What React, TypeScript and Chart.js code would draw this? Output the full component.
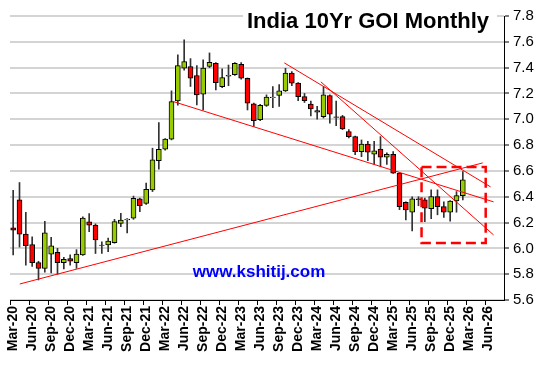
import React, { useEffect, useRef } from 'react';
import { Chart, registerables } from 'chart.js';

Chart.register(...registerables);

const months = [
  'Mar-20','Apr-20','May-20','Jun-20','Jul-20','Aug-20','Sep-20','Oct-20','Nov-20','Dec-20',
  'Jan-21','Feb-21','Mar-21','Apr-21','May-21','Jun-21','Jul-21','Aug-21','Sep-21','Oct-21','Nov-21','Dec-21',
  'Jan-22','Feb-22','Mar-22','Apr-22','May-22','Jun-22','Jul-22','Aug-22','Sep-22','Oct-22','Nov-22','Dec-22',
  'Jan-23','Feb-23','Mar-23','Apr-23','May-23','Jun-23','Jul-23','Aug-23','Sep-23','Oct-23','Nov-23','Dec-23',
  'Jan-24','Feb-24','Mar-24','Apr-24','May-24','Jun-24','Jul-24','Aug-24','Sep-24','Oct-24','Nov-24','Dec-24',
  'Jan-25','Feb-25','Mar-25','Apr-25','May-25','Jun-25','Jul-25','Aug-25','Sep-25','Oct-25','Nov-25','Dec-25',
  'Jan-26','Feb-26'
];

const opens = [
  6.16, 6.375, 6.11, 6.03, 5.89, 5.845, 5.955, 5.97, 5.89, 5.92,
  5.89, 5.95, 6.205, 6.18, 6.026, 6.026, 6.044, 6.194, 6.22, 6.233, 6.383, 6.349,
  6.453, 6.68, 6.768, 6.846, 7.143, 7.396, 7.409, 7.339, 7.194, 7.409, 7.434, 7.253,
  7.333, 7.346, 7.426, 7.318, 7.12, 6.997, 7.108, 7.168, 7.184, 7.22, 7.357, 7.28,
  7.176, 7.117, 7.068, 7.021, 7.184, 7.018, 7.021, 6.905, 6.866, 6.75, 6.807, 6.729,
  6.77, 6.706, 6.729, 6.582, 6.357, 6.28, 6.383, 6.375, 6.307, 6.401, 6.323, 6.28,
  6.367, 6.409
];
const highs = [
  6.45, 6.51, 6.28, 6.09, 5.9, 6.21, 6.085, 6.0, 5.93, 5.95,
  5.99, 6.245, 6.27, 6.19, 6.05, 6.08, 6.225, 6.272, 6.23, 6.405, 6.39, 6.505,
  6.776, 6.974, 6.85, 7.22, 7.499, 7.615, 7.47, 7.416, 7.46, 7.514, 7.44, 7.39,
  7.42, 7.44, 7.44, 7.32, 7.125, 7.115, 7.189, 7.253, 7.268, 7.395, 7.37, 7.285,
  7.2, 7.14, 7.1, 7.253, 7.19, 7.14, 7.03, 6.92, 6.87, 6.84, 6.83, 6.83,
  6.866, 6.74, 6.75, 6.585, 6.36, 6.4, 6.4, 6.39, 6.453, 6.453, 6.36, 6.37,
  6.44, 6.595
];
const lows = [
  5.95, 6.01, 5.87, 5.86, 5.755, 5.815, 5.81, 5.8, 5.84, 5.87,
  5.845, 5.945, 6.13, 5.96, 5.96, 5.975, 6.04, 6.168, 6.12, 6.225, 6.285, 6.34,
  6.44, 6.613, 6.76, 6.84, 7.11, 7.38, 7.254, 7.111, 7.072, 7.4, 7.227, 7.245,
  7.26, 7.34, 7.31, 7.072, 6.944, 6.99, 7.1, 7.09, 7.1, 7.215, 7.26, 7.145,
  7.13, 7.026, 7.0, 7.01, 6.97, 6.95, 6.92, 6.855, 6.725, 6.71, 6.68, 6.65,
  6.632, 6.65, 6.58, 6.3, 6.22, 6.135, 6.33, 6.207, 6.23, 6.26, 6.24, 6.21,
  6.28, 6.375
];
const closes = [
  6.14, 6.11, 6.02, 5.89, 5.845, 6.12, 6.02, 5.89, 5.915, 5.9,
  5.955, 6.235, 6.18, 6.065, 6.022, 6.057, 6.207, 6.22, 6.226, 6.388, 6.331, 6.458,
  6.685, 6.768, 6.846, 7.137, 7.416, 7.447, 7.318, 7.189, 7.396, 7.442, 7.284, 7.323,
  7.341, 7.434, 7.318, 7.125, 6.99, 7.108, 7.171, 7.172, 7.22, 7.357, 7.28, 7.176,
  7.145, 7.081, 7.055, 7.189, 7.04, 7.014, 6.926, 6.866, 6.75, 6.807, 6.745, 6.755,
  6.706, 6.729, 6.582, 6.323, 6.297, 6.383, 6.378, 6.311, 6.401, 6.323, 6.28, 6.367,
  6.409, 6.53
];

const axisLabels = [
  'Mar-20','Jun-20','Sep-20','Dec-20','Mar-21','Jun-21','Sep-21','Dec-21',
  'Mar-22','Jun-22','Sep-22','Dec-22','Mar-23','Jun-23','Sep-23','Dec-23',
  'Mar-24','Jun-24','Sep-24','Dec-24','Mar-25','Jun-25','Sep-25','Dec-25',
  'Mar-26','Jun-26'
];

const yMin = 5.6;
const yMax = 7.8;
const yStep = 0.2;

// trendlines in (month index, yield)
const supportLine = [{ x: 1.04, y: 5.724 }, { x: 74.14, y: 6.662 }];
const resistLineA = [{ x: 25.3, y: 7.137 }, { x: 75.86, y: 6.36 }];
const resistLineB = [{ x: 42.81, y: 7.437 }, { x: 75.39, y: 6.476 }];
const resistLineC = [{ x: 48.58, y: 7.29 }, { x: 75.86, y: 6.104 }];
const boxXs = [64.48, 74.61];
const boxYs = [6.042, 6.631];

const titleText = 'India 10Yr GOI Monthly';
const watermarkText = 'www.kshitij.com';

export default function App() {
  const ref = useRef<HTMLCanvasElement>(null);

  useEffect(() => {
    const canvas = ref.current;
    if (!canvas) return;
    const font = '"Liberation Sans", Arial, Helvetica, sans-serif';
    const axisMax = axisLabels.length * 3 - 0.5;

    const overlay = {
      id: 'overlay',
      beforeDatasetsDraw(chart: any) {
        const c = chart.ctx;
        c.save();
        c.fillStyle = '#ffffff';
        c.fillRect(243, 2, 254, 30);
        c.fillStyle = '#000000';
        c.font = `bold 22px ${font}`;
        c.textAlign = 'right';
        c.textBaseline = 'alphabetic';
        c.fillText(titleText, 489, 28);
        c.fillStyle = '#0000ff';
        c.font = `bold 17px ${font}`;
        c.textAlign = 'center';
        c.fillText(watermarkText, 259, 277);
        c.restore();
      },
    };

    const lineDs = (pts: any[], dash: number[] = [], width = 1) => ({
      type: 'line' as const,
      data: pts,
      borderColor: '#ff0000',
      borderWidth: width,
      borderDash: dash,
      pointRadius: 0,
      fill: false,
      tension: 0,
      order: -1,
    });

    const box = [
      { x: boxXs[0], y: boxYs[1] },
      { x: boxXs[1], y: boxYs[1] },
      { x: boxXs[1], y: boxYs[0] },
      { x: boxXs[0], y: boxYs[0] },
      { x: boxXs[0], y: boxYs[1] },
    ];

    const chart = new Chart(canvas, {
      type: 'bar',
      data: {
        datasets: [
          {
            type: 'bar',
            data: months.map((_, i) => ({ x: i, y: [lows[i], highs[i]] })) as any,
            backgroundColor: '#333333',
            borderWidth: 0,
            barThickness: 1,
            grouped: false,
            order: 2,
          } as any,
          {
            type: 'bar',
            data: months.map((_, i) => ({ x: i, y: [opens[i], closes[i]] })) as any,
            backgroundColor: months.map((_, i) => (closes[i] >= opens[i] ? '#99cc00' : '#ff0000')),
            borderColor: '#000000',
            borderWidth: 1,
            borderSkipped: false,
            barThickness: 5,
            grouped: false,
            order: 1,
          } as any,
          lineDs(supportLine) as any,
          lineDs(resistLineA) as any,
          lineDs(resistLineB) as any,
          lineDs(resistLineC) as any,
          lineDs(box, [10, 5], 2.5) as any,
        ],
      },
      options: {
        responsive: false,
        animation: false,
        events: [],
        layout: { padding: { left: 10, top: 16, right: 0, bottom: 0 } },
        plugins: { legend: { display: false }, tooltip: { enabled: false }, title: { display: false } },
        scales: {
          x: {
            type: 'linear',
            min: -0.5,
            max: axisMax,
            offset: false,
            grid: {
              display: true,
              drawOnChartArea: false,
              drawTicks: true,
              tickLength: 5,
              color: '#000000',
              offset: false,
            },
            border: { display: true, color: '#000000', width: 1 },
            afterBuildTicks: (scale: any) => {
              scale.ticks = axisLabels.map((_, k) => ({ value: k * 3 - 0.5 }));
            },
            afterFit: (scale: any) => {
              scale.height = 67;
            },
            ticks: {
              autoSkip: false,
              maxRotation: 90,
              minRotation: 90,
              padding: 1,
              labelOffset: 3.2,
              color: '#000000',
              font: { family: font, size: 14, weight: 'bold' },
              callback: (v: any) => axisLabels[Math.round((Number(v) + 0.5) / 3)] ?? '',
            },
          },
          y: {
            type: 'linear',
            position: 'right',
            min: yMin,
            max: yMax,
            grid: {
              color: '#d4d4d4',
              lineWidth: 2,
              drawTicks: true,
              tickLength: 5,
              tickColor: '#000000',
              tickWidth: 1,
            },
            border: { display: true, color: '#000000', width: 1 },
            afterFit: (scale: any) => {
              scale.width = 40;
            },
            ticks: {
              stepSize: yStep,
              padding: 4,
              color: '#000000',
              font: { family: font, size: 15 },
              callback: (v: any) => Number(v).toFixed(1),
            },
          },
        },
      } as any,
      plugins: [overlay],
    });

    return () => chart.destroy();
  }, []);

  return (
    <div style={{ position: 'absolute', left: 0, top: 0, width: 544, height: 367, background: '#ffffff' }}>
      <canvas ref={ref} width={544} height={367} />
    </div>
  );
}
